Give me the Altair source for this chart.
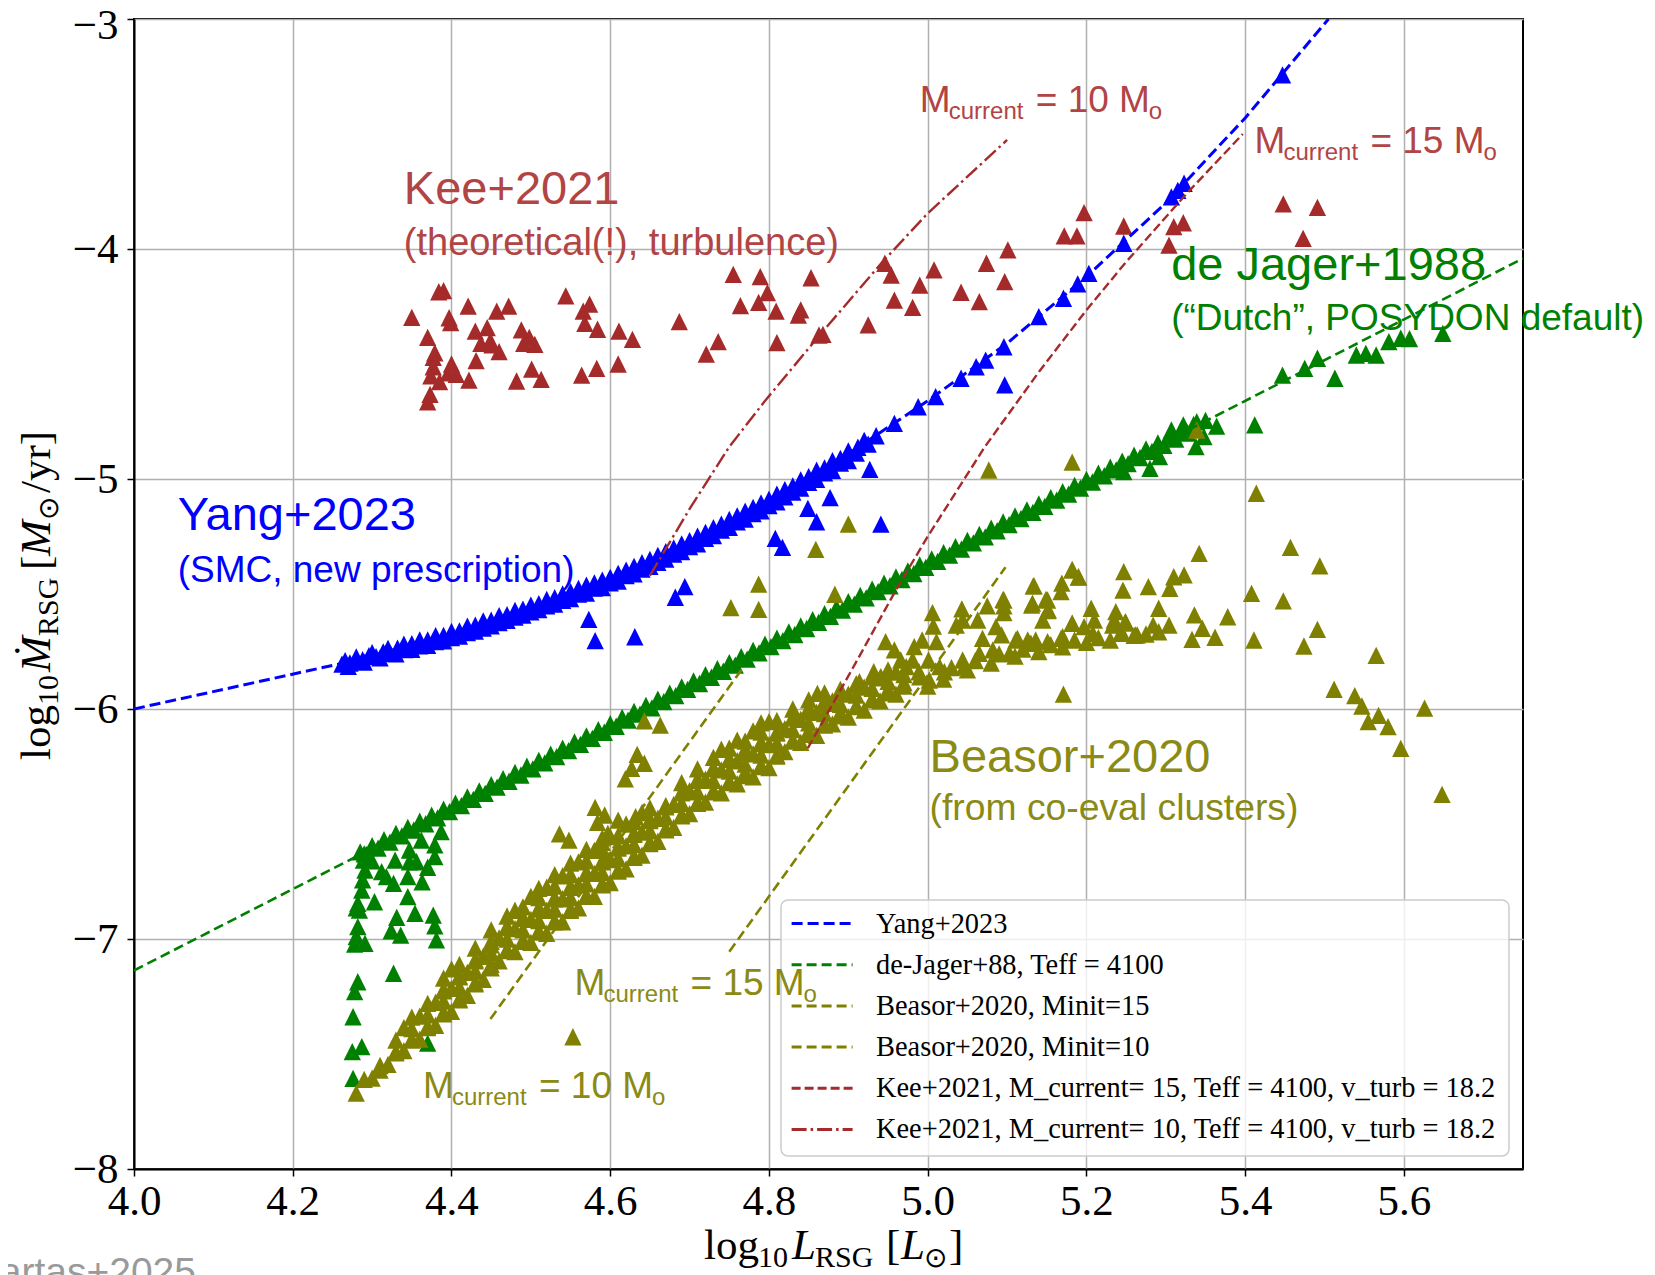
import altair as alt
import pandas as pd

# ---------------- data ----------------
kee_pts = [(4.350,-4.297),(4.384,-4.186),(4.390,-4.181),(4.370,-4.384),(4.397,-4.299),(4.399,-4.320),(4.421,-4.248),
 (4.457,-4.270),(4.472,-4.248),(4.430,-4.357),(4.445,-4.342),(4.379,-4.451),(4.377,-4.471),(4.437,-4.410),(4.449,-4.400),
 (4.451,-4.417),(4.460,-4.446),(4.431,-4.485),(4.377,-4.512),(4.400,-4.500),(4.396,-4.538),(4.406,-4.545),(4.374,-4.552),
 (4.385,-4.577),(4.422,-4.570),(4.373,-4.632),(4.370,-4.664),(4.488,-4.352),(4.491,-4.410),(4.498,-4.384),(4.505,-4.415),
 (4.501,-4.522),(4.482,-4.574),(4.513,-4.567),(4.544,-4.204),(4.566,-4.270),(4.574,-4.240),(4.568,-4.323),(4.584,-4.349),
 (4.611,-4.357),(4.628,-4.393),(4.564,-4.548),(4.583,-4.519),(4.610,-4.500),(4.687,-4.316),(4.721,-4.457),(4.736,-4.403),
 (4.755,-4.110),(4.789,-4.120),(4.764,-4.246),(4.787,-4.232),(4.798,-4.190),(4.809,-4.270),(4.810,-4.407),(4.853,-4.125),
 (4.840,-4.265),(4.837,-4.287),(4.863,-4.374),(4.868,-4.371),(4.925,-4.330),(4.946,-4.062),(4.954,-4.113),(4.958,-4.222),
 (4.981,-4.254),(4.990,-4.157),(5.008,-4.091),(5.042,-4.188),(5.065,-4.229),(5.074,-4.062),(5.097,-4.142),(5.101,-4.004),
 (5.172,-3.943),(5.188,-3.943),(5.197,-3.842),(5.247,-3.900),(5.304,-3.983),(5.310,-3.903),(5.322,-3.886),(5.448,-3.804),
 (5.491,-3.819),(5.473,-3.954)]

yang_band_pts = [(4.262,-5.805),(4.266,-5.790),(4.272,-5.800),(4.280,-5.782),(4.288,-5.786),(4.296,-5.768),(4.305,-5.772),
 (4.314,-5.752),(4.323,-5.758),(4.332,-5.735),(4.341,-5.742),(4.350,-5.716),(4.360,-5.725),(4.370,-5.700),(4.380,-5.707),
 (4.390,-5.680),(4.400,-5.690),(4.410,-5.660),(4.420,-5.668),(4.430,-5.636),(4.440,-5.648),(4.450,-5.614),(4.460,-5.624),
 (4.470,-5.590),(4.480,-5.600),(4.490,-5.566),(4.500,-5.578),(4.510,-5.542),(4.520,-5.552),(4.530,-5.516),(4.540,-5.528),
 (4.550,-5.490),(4.560,-5.500),(4.570,-5.462),(4.580,-5.474),(4.590,-5.440),(4.600,-5.452),(4.610,-5.410),(4.620,-5.420),
 (4.630,-5.380),(4.640,-5.392),(4.650,-5.350),(4.660,-5.362),(4.670,-5.316),(4.680,-5.326),(4.690,-5.282),(4.700,-5.294),
 (4.710,-5.248),(4.720,-5.258),(4.730,-5.212),(4.740,-5.222),(4.750,-5.176),(4.760,-5.186),(4.770,-5.140),(4.780,-5.150),
 (4.790,-5.104),(4.800,-5.116),(4.810,-5.066),(4.820,-5.078),(4.830,-5.030),(4.840,-5.040),(4.850,-4.990),(4.860,-5.002),
 (4.870,-4.952),(4.880,-4.962),(4.890,-4.910),(4.900,-4.920),(4.912,-4.862),(4.925,-4.848),(4.935,-4.812),
 (4.27,-5.815),(4.29,-5.796),(4.31,-5.778),(4.33,-5.760),(4.35,-5.741),(4.37,-5.723),(4.39,-5.704),(4.41,-5.683),
 (4.43,-5.661),(4.45,-5.638),(4.47,-5.615),(4.49,-5.592),(4.51,-5.568),(4.53,-5.544),(4.55,-5.520),(4.57,-5.496),
 (4.59,-5.472),(4.61,-5.444),(4.63,-5.412),(4.65,-5.380),(4.67,-5.348),(4.69,-5.316),(4.71,-5.282),(4.73,-5.246),
 (4.75,-5.210),(4.77,-5.174),(4.79,-5.138),(4.81,-5.099),(4.83,-5.057),(4.85,-5.015),(4.87,-4.973),(4.89,-4.931),
 (4.91,-4.887),
 (4.28,-5.773),(4.30,-5.755),(4.32,-5.737),(4.34,-5.718),(4.36,-5.700),(4.38,-5.681),(4.40,-5.663),(4.42,-5.640),
 (4.44,-5.617),(4.46,-5.594),(4.48,-5.571),(4.50,-5.548),(4.52,-5.524),(4.54,-5.500),(4.56,-5.476),(4.58,-5.452),
 (4.60,-5.428),(4.62,-5.396),(4.64,-5.364),(4.66,-5.332),(4.68,-5.300),(4.70,-5.268),(4.72,-5.232),(4.74,-5.196),
 (4.76,-5.160),(4.78,-5.124),(4.80,-5.088),(4.82,-5.046),(4.84,-5.004),(4.86,-4.962),(4.88,-4.920),(4.90,-4.878),
 (4.92,-4.832)]

yang_pts = [(4.958,-4.758),(4.988,-4.686),(5.010,-4.642),(5.042,-4.562),(5.061,-4.512),(5.073,-4.483),(5.096,-4.425),
 (5.140,-4.294),(5.171,-4.214),(5.189,-4.152),(5.203,-4.106),(5.247,-3.975),(5.307,-3.773),(5.315,-3.745),(5.323,-3.714),
 (5.447,-3.243),(4.573,-5.610),(4.581,-5.703),(4.631,-5.686),(4.682,-5.514),(4.694,-5.468),(4.808,-5.258),(4.817,-5.297),
 (4.849,-5.128),(4.860,-5.186),(4.877,-5.081),(4.927,-4.958),(4.941,-5.196),(5.097,-4.591)]

dejager_band_pts = [(4.285,-6.621),(4.300,-6.594),(4.315,-6.568),(4.330,-6.541),(4.345,-6.515),(4.360,-6.488),(4.375,-6.462),
 (4.390,-6.435),(4.405,-6.409),(4.420,-6.382),(4.435,-6.356),(4.450,-6.329),(4.465,-6.303),(4.480,-6.276),(4.495,-6.249),
 (4.510,-6.223),(4.525,-6.196),(4.540,-6.170),(4.555,-6.143),(4.570,-6.117),(4.585,-6.090),(4.600,-6.064),(4.615,-6.037),
 (4.630,-6.011),(4.645,-5.984),(4.660,-5.957),(4.675,-5.931),(4.690,-5.904),(4.705,-5.878),(4.720,-5.851),(4.735,-5.825),
 (4.750,-5.798),(4.765,-5.772),(4.780,-5.745),(4.795,-5.718),(4.810,-5.692),(4.825,-5.665),(4.840,-5.639),(4.855,-5.612),
 (4.870,-5.586),(4.885,-5.559),(4.900,-5.533),(4.915,-5.506),(4.930,-5.479),(4.945,-5.453),(4.960,-5.426),(4.975,-5.400),
 (4.990,-5.373),(5.005,-5.347),(5.020,-5.320),(5.035,-5.294),(5.050,-5.267),(5.065,-5.241),(5.080,-5.214),(5.095,-5.187),
 (5.110,-5.161),(5.125,-5.134),(5.140,-5.108),(5.155,-5.081),(5.170,-5.055),(5.185,-5.028),(5.200,-5.002),(5.215,-4.975),
 (5.230,-4.949),(5.245,-4.922),(5.260,-4.896),(5.275,-4.869),(5.290,-4.843),(5.305,-4.816),(5.320,-4.789),(5.335,-4.763),
 (4.2925,-6.632),(4.3075,-6.605),(4.3225,-6.579),(4.3375,-6.552),(4.3525,-6.526),(4.3675,-6.499),(4.3825,-6.473),
 (4.3975,-6.446),(4.4125,-6.420),(4.4275,-6.393),(4.4425,-6.367),(4.4575,-6.340),(4.4725,-6.314),(4.4875,-6.287),
 (4.5025,-6.260),(4.5175,-6.234),(4.5325,-6.207),(4.5475,-6.181),(4.5625,-6.154),(4.5775,-6.128),(4.5925,-6.101),
 (4.6075,-6.075),(4.6225,-6.048),(4.6375,-6.022),(4.6525,-5.995),(4.6675,-5.968),(4.6825,-5.942),(4.6975,-5.915),
 (4.7125,-5.889),(4.7275,-5.862),(4.7425,-5.836),(4.7575,-5.809),(4.7725,-5.783),(4.7875,-5.756),(4.8025,-5.729),
 (4.8175,-5.703),(4.8325,-5.676),(4.8475,-5.650),(4.8625,-5.623),(4.8775,-5.597),(4.8925,-5.570),(4.9075,-5.544),
 (4.9225,-5.517),(4.9375,-5.490),(4.9525,-5.464),(4.9675,-5.437),(4.9825,-5.411),(4.9975,-5.384),(5.0125,-5.358),
 (5.0275,-5.331),(5.0425,-5.305),(5.0575,-5.278),(5.0725,-5.252),(5.0875,-5.225),(5.1025,-5.198),(5.1175,-5.172),
 (5.1325,-5.145),(5.1475,-5.119),(5.1625,-5.092),(5.1775,-5.066),(5.1925,-5.039),(5.2075,-5.013),(5.2225,-4.986),
 (5.2375,-4.960),(5.2525,-4.933),(5.2675,-4.907),(5.2825,-4.880),(5.2975,-4.854),(5.3125,-4.827),(5.3275,-4.800)]

dejager_pts = [(4.289,-6.657),(4.291,-6.700),(4.288,-6.743),(4.287,-6.787),(4.282,-6.845),(4.284,-6.874),(4.280,-6.865),
 (4.303,-6.838),(4.312,-6.707),(4.318,-6.729),(4.327,-6.758),(4.329,-6.657),(4.347,-6.613),(4.347,-6.664),(4.356,-6.664),
 (4.345,-6.729),(4.363,-6.751),(4.370,-6.688),(4.379,-6.642),(4.379,-6.591),(4.387,-6.533),(4.362,-6.570),(4.345,-6.816),
 (4.354,-6.888),(4.331,-6.906),(4.324,-6.964),(4.336,-6.983),(4.377,-6.896),(4.379,-6.943),(4.381,-7.004),(4.282,-6.946),
 (4.280,-6.990),(4.291,-7.019),(4.278,-7.022),(4.327,-7.149),(4.282,-7.186),(4.278,-7.229),(4.276,-7.338),(4.275,-7.490),
 (4.287,-7.468),(4.276,-7.606),(4.370,-7.453),(4.290,-6.630),(4.296,-6.645),(4.300,-6.660),
 (5.247,-4.968),(5.280,-4.954),(5.292,-4.903),(5.338,-4.859),(5.348,-4.816),(5.307,-4.787),(5.322,-4.765),(5.339,-4.751),
 (5.364,-4.770),(5.412,-4.765),(5.350,-4.745),(5.447,-4.548),(5.475,-4.519),(5.491,-4.475),(5.513,-4.562),(5.540,-4.461),
 (5.552,-4.454),(5.565,-4.461),(5.581,-4.403),(5.596,-4.388),(5.607,-4.390),(5.649,-4.367)]

beasor_band_pts = [(4.28,-7.67),(4.30,-7.605),(4.31,-7.57),(4.32,-7.545),(4.33,-7.495),(4.34,-7.485),(4.35,-7.435),
 (4.34,-7.385),(4.36,-7.435),(4.37,-7.385),(4.36,-7.335),(4.38,-7.375),(4.39,-7.325),(4.38,-7.275),(4.39,-7.225),
 (4.40,-7.315),(4.41,-7.265),(4.40,-7.215),(4.41,-7.165),(4.40,-7.13),(4.42,-7.245),(4.43,-7.195),(4.42,-7.145),
 (4.43,-7.095),(4.44,-7.175),(4.45,-7.125),(4.44,-7.075),(4.45,-7.025),(4.46,-7.095),(4.47,-7.045),(4.46,-6.995),
 (4.47,-6.945),(4.48,-7.055),(4.49,-7.005),(4.48,-6.955),(4.49,-6.905),(4.48,-6.875),(4.50,-7.015),(4.51,-6.965),
 (4.50,-6.915),(4.51,-6.865),(4.50,-6.815),(4.52,-6.975),(4.53,-6.925),(4.52,-6.875),(4.53,-6.825),(4.52,-6.775),
 (4.54,-6.925),(4.55,-6.875),(4.54,-6.825),(4.55,-6.775),(4.54,-6.725),(4.56,-6.865),(4.57,-6.815),(4.56,-6.765),
 (4.57,-6.715),(4.56,-6.665),(4.58,-6.815),(4.59,-6.765),(4.58,-6.715),(4.59,-6.665),(4.58,-6.615),(4.59,-6.58),
 (4.60,-6.755),(4.61,-6.705),(4.60,-6.655),(4.61,-6.605),(4.60,-6.555),(4.62,-6.695),(4.63,-6.645),(4.62,-6.595),
 (4.63,-6.545),(4.62,-6.50),(4.64,-6.635),(4.65,-6.585),(4.64,-6.535),(4.65,-6.485),(4.64,-6.45),(4.66,-6.575),
 (4.67,-6.525),(4.66,-6.475),(4.67,-6.425),(4.68,-6.515),(4.69,-6.465),(4.68,-6.415),(4.69,-6.365),(4.70,-6.455),
 (4.71,-6.405),(4.70,-6.355),(4.71,-6.305),(4.72,-6.405),(4.73,-6.355),(4.72,-6.305),(4.73,-6.255),(4.74,-6.365),
 (4.75,-6.315),(4.74,-6.265),(4.75,-6.215),(4.74,-6.175),(4.76,-6.325),(4.77,-6.275),(4.76,-6.225),(4.77,-6.175),
 (4.76,-6.135),(4.78,-6.295),(4.79,-6.245),(4.78,-6.195),(4.79,-6.145),(4.78,-6.095),(4.80,-6.255),(4.81,-6.205),
 (4.80,-6.155),(4.81,-6.105),(4.80,-6.055),(4.82,-6.185),(4.83,-6.135),(4.82,-6.085),(4.83,-6.035),(4.84,-6.145),
 (4.85,-6.095),(4.84,-6.045),(4.85,-5.995),(4.86,-6.115),(4.87,-6.065),(4.86,-6.015),(4.87,-5.965),(4.88,-6.065),
 (4.89,-6.015),(4.88,-5.965),(4.89,-5.915),(4.90,-6.035),(4.91,-5.985),(4.90,-5.935),(4.91,-5.895),(4.92,-6.005),
 (4.93,-5.955),(4.92,-5.905),(4.94,-5.965),(4.95,-5.915),(4.94,-5.865),(4.96,-5.935),(4.97,-5.885),(4.96,-5.84),
 (5.00,-5.90),(5.02,-5.87),(5.05,-5.83),(5.08,-5.80),(5.11,-5.77),(5.14,-5.75),(5.17,-5.73),(5.20,-5.71),(5.23,-5.70),
 (5.26,-5.68),
 (4.29,-7.61),(4.31,-7.55),(4.33,-7.49),(4.33,-7.44),(4.35,-7.44),(4.35,-7.39),(4.35,-7.34),(4.37,-7.38),(4.37,-7.33),
 (4.37,-7.28),(4.39,-7.32),(4.39,-7.27),(4.39,-7.22),(4.39,-7.17),(4.41,-7.26),(4.41,-7.21),(4.41,-7.16),(4.41,-7.11),
 (4.43,-7.19),(4.43,-7.14),(4.43,-7.09),(4.43,-7.04),(4.45,-7.11),(4.45,-7.06),(4.45,-7.01),(4.45,-6.96),(4.47,-7.05),
 (4.47,-7.00),(4.47,-6.95),(4.47,-6.90),(4.49,-7.01),(4.49,-6.96),(4.49,-6.91),(4.49,-6.86),(4.51,-6.97),(4.51,-6.92),
 (4.51,-6.87),(4.51,-6.82),(4.51,-6.78),(4.53,-6.92),(4.53,-6.87),(4.53,-6.82),(4.53,-6.77),(4.53,-6.72),(4.55,-6.87),
 (4.55,-6.82),(4.55,-6.77),(4.55,-6.72),(4.55,-6.67),(4.57,-6.81),(4.57,-6.76),(4.57,-6.71),(4.57,-6.66),(4.57,-6.61),
 (4.59,-6.76),(4.59,-6.71),(4.59,-6.66),(4.59,-6.61),(4.59,-6.56),(4.61,-6.70),(4.61,-6.65),(4.61,-6.60),(4.61,-6.55),
 (4.63,-6.64),(4.63,-6.59),(4.63,-6.54),(4.63,-6.49),(4.65,-6.58),(4.65,-6.53),(4.65,-6.48),(4.65,-6.43),(4.67,-6.52),
 (4.67,-6.47),(4.67,-6.42),(4.69,-6.46),(4.69,-6.41),(4.69,-6.36),(4.69,-6.32),(4.71,-6.41),(4.71,-6.36),(4.71,-6.31),
 (4.71,-6.26),(4.73,-6.36),(4.73,-6.31),(4.73,-6.26),(4.73,-6.21),(4.75,-6.32),(4.75,-6.27),(4.75,-6.22),(4.75,-6.17),
 (4.77,-6.29),(4.77,-6.24),(4.77,-6.19),(4.77,-6.14),(4.79,-6.25),(4.79,-6.20),(4.79,-6.15),(4.79,-6.10),(4.79,-6.06),
 (4.81,-6.20),(4.81,-6.15),(4.81,-6.10),(4.81,-6.05),(4.83,-6.14),(4.83,-6.09),(4.83,-6.04),(4.83,-6.00),(4.85,-6.11),
 (4.85,-6.06),(4.85,-6.01),(4.85,-5.96),(4.87,-6.07),(4.87,-6.02),(4.87,-5.97),(4.87,-5.93),(4.89,-6.03),(4.89,-5.98),
 (4.89,-5.93),(4.91,-5.99),(4.91,-5.94),(4.91,-5.89),(4.93,-5.96),(4.93,-5.91),(4.93,-5.86),(4.95,-5.93),(4.95,-5.88),
 (4.95,-5.83),(4.97,-5.90),(4.97,-5.85),
 (4.99,-5.86),(5.03,-5.82),(5.06,-5.79),(5.09,-5.76),(5.12,-5.74),(5.155,-5.72),(5.185,-5.70),(5.215,-5.69),(5.245,-5.67)]

beasor_pts = [(4.553,-7.425),(4.536,-6.543),(4.548,-6.570),(4.581,-6.428),(4.593,-6.461),(4.584,-6.493),(4.597,-6.541),
 (4.610,-6.483),(4.632,-6.468),(4.619,-6.304),(4.627,-6.258),(4.634,-6.197),(4.643,-6.236),(4.643,-6.051),(4.663,-6.070),
 (4.752,-5.559),(4.787,-5.457),(4.787,-5.567),(4.859,-5.306),(4.883,-5.501),(4.900,-5.196),(5.006,-5.581),(5.007,-5.639),
 (5.043,-5.565),(5.075,-5.552),(5.095,-5.523),(5.096,-5.552),(5.133,-5.465),(5.169,-5.453),(5.182,-5.396),(5.190,-5.427),
 (5.168,-5.490),(5.247,-5.403),(5.246,-5.483),(5.171,-5.935),(5.131,-5.548),(5.149,-5.523),(5.151,-5.572),(5.145,-5.613),
 (5.063,-5.613),(5.044,-5.613),(5.036,-5.635),(5.069,-5.693),(5.086,-5.642),(5.093,-5.678),(5.011,-5.707),(4.993,-5.700),
 (4.983,-5.729),(4.947,-5.707),(4.958,-5.743),(4.966,-5.787),(4.981,-5.787),(5.001,-5.787),(5.015,-5.816),(5.021,-5.838),
 (5.002,-5.874),(4.989,-5.838),(4.973,-5.816),(4.932,-5.838),(4.941,-5.859),(4.914,-5.881),(4.861,-5.932),(4.872,-5.975),
 (5.044,-5.787),(5.046,-5.816),(5.065,-5.758),(5.082,-5.743),(5.113,-5.693),(5.126,-5.700),(5.136,-5.700),(5.170,-5.686),
 (5.182,-5.628),(5.208,-5.671),(5.210,-5.613),(5.206,-5.562),(5.235,-5.613),(5.237,-5.577),(5.249,-5.620),(5.243,-5.671),
 (5.262,-5.678),(5.182,-4.927),(5.414,-5.062),(5.342,-5.323),(5.457,-5.297),(5.494,-5.378),(5.408,-5.497),(5.448,-5.530),
 (5.491,-5.654),(5.474,-5.726),(5.411,-5.700),(5.565,-5.767),(5.512,-5.914),(5.538,-5.942),(5.547,-5.987),(5.568,-6.028),
 (5.555,-6.055),(5.580,-6.077),(5.596,-6.171),(5.626,-5.996),(5.648,-6.371),(5.278,-5.468),(5.305,-5.475),(5.310,-5.425),
 (5.323,-5.417),(5.291,-5.562),(5.336,-5.591),(5.346,-5.649),(5.333,-5.697),(5.362,-5.688),(5.378,-5.599),(5.304,-5.635),
 (5.291,-5.664),(5.284,-5.635),(5.275,-5.674),(5.264,-5.678),(5.250,-5.627),(5.233,-5.635),(5.197,-5.642),(5.182,-5.627),
 (5.182,-5.393),(5.190,-5.425),(5.134,-5.465),(5.151,-5.526),(5.152,-5.570),(5.132,-5.540),(5.096,-5.526),(5.096,-5.581),
 (5.111,-5.700),(5.130,-5.714),(5.151,-5.707),(5.168,-5.693),(5.103,-5.758),(5.077,-4.961),(5.339,-4.787)]

# prescription curves
yang_x = [4.00, 4.264, 4.40, 4.50, 4.60, 4.70, 4.80, 4.90, 5.00, 5.10, 5.20, 5.30, 5.40, 5.505]
yang_y = [-6.00, -5.80, -5.675, -5.56, -5.44, -5.28, -5.10, -4.89, -4.66, -4.41, -4.12, -3.80, -3.43, -3.00]
dejager_x = [4.00, 4.90, 5.75]
dejager_y = [-7.137, -5.545, -4.041]
beasor15_x = [4.750, 5.098]
beasor15_y = [-7.055, -5.384]
beasor10_x = [4.449, 4.769]
beasor10_y = [-7.348, -5.812]
kee15_x = [4.849, 4.880, 4.914, 4.962, 5.000, 5.072, 5.141, 5.199, 5.249, 5.326, 5.397]
kee15_y = [-6.17, -5.98, -5.77, -5.47, -5.25, -4.86, -4.53, -4.27, -4.06, -3.76, -3.50]
kee10_x = [4.65, 4.70, 4.75, 4.796, 4.865, 4.942, 5.00, 5.10]
kee10_y = [-5.42, -5.13, -4.86, -4.656, -4.37, -4.06, -3.845, -3.526]

legend_labels = ["Yang+2023", "de-Jager+88, Teff = 4100", "Beasor+2020, Minit=15", "Beasor+2020, Minit=10",
                 "Kee+2021, M_current= 15, Teff = 4100, v_turb = 18.2",
                 "Kee+2021, M_current= 10, Teff = 4100, v_turb = 18.2"]
x_ticks = [4.0, 4.2, 4.4, 4.6, 4.8, 5.0, 5.2, 5.4, 5.6]
y_ticks = [-8, -7, -6, -5, -4, -3]

# ---------------- styling ----------------
BLUE, GREEN, OLIVE, BROWN = "#0000ff", "#008000", "#808000", "#a52a2a"
KEE_TXT, OLIVE_TXT = "#b24444", "#8a8a14"
SERIF = "Liberation Serif"
SANS = "Liberation Sans"
TRI = "M0,-1L-1,1L1,1Z"
W, H = 1389, 1150

xs = alt.Scale(domain=[4.0, 5.75], nice=False, zero=False)
ys = alt.Scale(domain=[-8, -3], nice=False, zero=False)
xaxis = alt.Axis(values=x_ticks, format=".1f", title=None, labelPadding=4, labelFlush=False)
yaxis = alt.Axis(values=y_ticks, format="d", title=None, labelPadding=9, labelFlush=False,
                 labelOffset={"condition": {"test": "datum.value == -3", "value": 6}, "value": 0})
ONE = pd.DataFrame({"k": [0]})


def enc_xy():
    return dict(x=alt.X("x:Q", scale=xs, axis=xaxis), y=alt.Y("y:Q", scale=ys, axis=yaxis))


def scatter(pts, color):
    df = pd.DataFrame(pts, columns=["x", "y"])
    return alt.Chart(df).mark_point(shape=TRI, filled=True, size=300, color=color, opacity=1).encode(**enc_xy())


def curve(xv, yv, color, dash, width):
    df = pd.DataFrame({"x": xv, "y": yv})
    return alt.Chart(df).mark_line(color=color, strokeDash=dash, strokeWidth=width, clip=True).encode(**enc_xy())


def dlabel(x, y, s, size, color, dx=0, dy=0):
    df = pd.DataFrame({"x": [x], "y": [y], "t": [s]})
    return alt.Chart(df).mark_text(align="left", baseline="alphabetic", font=SANS, fontSize=size,
                                   color=color, dx=dx, dy=dy).encode(text="t:N", **enc_xy())


def ptext(px, py, s, size, font=SERIF, angle=0, style="normal", color="black", align="left", baseline="alphabetic"):
    return alt.Chart(ONE).mark_text(align=align, baseline=baseline, font=font, fontSize=size, fontStyle=style,
                                    angle=angle, color=color).encode(x=alt.value(px), y=alt.value(py), text=alt.value(s))


def mcurrent(x, y, num, color):
    return [dlabel(x, y, "M", 37, color), dlabel(x, y, "current", 24, color, dx=29, dy=7),
            dlabel(x, y, "= " + num + " M", 37, color, dx=116), dlabel(x, y, "o", 24, color, dx=229, dy=7)]


layers = [scatter(kee_pts, BROWN), scatter(yang_band_pts + yang_pts, BLUE),
          scatter(dejager_band_pts + dejager_pts, GREEN), scatter(beasor_band_pts + beasor_pts, OLIVE)]

line_styles = [(yang_x, yang_y, BLUE, [11, 5], 3), (dejager_x, dejager_y, GREEN, [10, 5], 2.6),
               (beasor15_x, beasor15_y, OLIVE, [10, 5], 2.6), (beasor10_x, beasor10_y, OLIVE, [10, 5], 2.6),
               (kee15_x, kee15_y, BROWN, [9, 4], 2.4), (kee10_x, kee10_y, BROWN, [15, 4, 2.5, 4], 2.4)]
for xv, yv, c, d, w in line_styles:
    layers.append(curve(xv, yv, c, d, w))

# legend (drawn manually, matplotlib-like)
layers.append(alt.Chart(ONE).mark_rect(cornerRadius=7, fill="white", fillOpacity=0.8, stroke="#cccccc",
                                       strokeWidth=1.5).encode(x=alt.value(647), x2=alt.value(1375),
                                                               y=alt.value(881), y2=alt.value(1137)))
for i, (lab, st) in enumerate(zip(legend_labels, line_styles)):
    yy = 904.6 + i * 41.16
    layers.append(alt.Chart(ONE).mark_rule(color=st[2], strokeDash=st[3], strokeWidth=3).encode(
        x=alt.value(657.6), x2=alt.value(718.6), y=alt.value(yy)))
    layers.append(ptext(742, yy, lab, 28.4, baseline="middle"))

# annotations
layers += [dlabel(4.340, -3.804, "Kee+2021", 47, KEE_TXT),
           dlabel(4.340, -4.026, "(theoretical(!), turbulence)", 38, KEE_TXT),
           dlabel(4.055, -5.222, "Yang+2023", 47, BLUE),
           dlabel(4.055, -5.446, "(SMC, new prescription)", 37, BLUE),
           dlabel(5.3067, -4.135, "de Jager+1988", 47, GREEN),
           dlabel(5.3067, -4.352, "(\u201cDutch\u201d, POSYDON default)", 37, GREEN),
           dlabel(5.0023, -6.272, "Beasor+2020", 47, OLIVE_TXT),
           dlabel(5.0023, -6.483, "(from co-eval clusters)", 37.3, OLIVE_TXT)]
layers += mcurrent(4.990, -3.403, "10", KEE_TXT)
layers += mcurrent(5.4116, -3.584, "15", KEE_TXT)
layers += mcurrent(4.555, -7.243, "15", OLIVE_TXT)
layers += mcurrent(4.364, -7.693, "10", OLIVE_TXT)

# axis titles, composed from pieces (sub/superscripts)
XB = 1240
layers += [ptext(570, XB, "log", 43), ptext(624, XB + 8, "10", 30), ptext(658, XB, "L", 43, style="italic"),
           ptext(681, XB + 8, "RSG", 30), ptext(752, XB, "[", 43), ptext(767, XB, "L", 43, style="italic"),
           ptext(790, XB + 8, "\u2299", 28), ptext(815, XB, "]", 43)]
YB = -84
layers += [ptext(YB, 741, "log", 43, angle=270), ptext(YB + 8, 686, "10", 30, angle=270),
           ptext(YB, 653, "\u1e40", 43, angle=270, style="italic"), ptext(YB + 8, 617, "RSG", 30, angle=270),
           ptext(YB, 551, "[", 43, angle=270), ptext(YB, 537, "M", 43, angle=270, style="italic"),
           ptext(YB + 8, 501, "\u2299", 28, angle=270), ptext(YB, 474, "/yr]", 43, angle=270)]

# cropped caption in the lower-left corner (cut by the figure edge, as in the reference)
layers.append(ptext(62, 1266, "Bartas+2025", 39, font=SANS, color="#9a9a9a", align="right"))

chart = alt.layer(*layers).properties(
    width=W, height=H,
    autosize=alt.AutoSizeParams(type="none"),
    padding={"left": 126, "top": 11, "right": 124, "bottom": 106},
).configure_view(stroke="black", strokeWidth=2).configure_axis(
    grid=True, gridColor="#b0b0b0", gridWidth=1.5, domainColor="black", domainWidth=2,
    tickColor="black", tickWidth=1.5, tickSize=7, labelFont=SERIF, labelFontSize=43, labelColor="black")

chart.save("out.html", embed_options={"renderer": "svg", "actions": False})
